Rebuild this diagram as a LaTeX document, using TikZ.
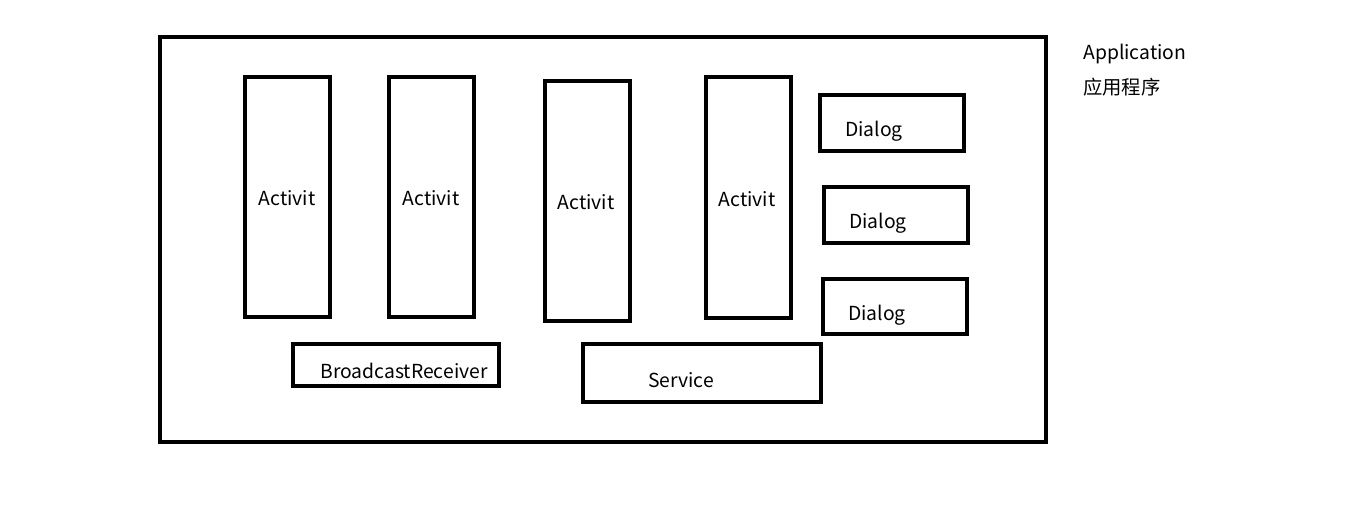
\documentclass[tikz,border=0pt]{standalone}
\usepackage{fontspec}
\setmainfont{Noto Sans CJK SC}
\begin{document}
\begin{tikzpicture}[x=0.75pt,y=-0.75pt,
  box/.style={draw=black,line width=3.3pt},
  lbl/.style={font=\fontsize{14.5pt}{17pt}\selectfont,inner sep=0pt}]
\useasboundingbox[fill=white] (0,0) rectangle (1348,530);
\draw[box] (160,37) rectangle (1046,442);
\draw[box] (245,77) rectangle (330,317);
\draw[box] (389,77) rectangle (474,317);
\draw[box] (545,81) rectangle (630,321);
\draw[box] (706,77) rectangle (791,318);
\draw[box] (820,95) rectangle (964,151);
\draw[box] (824,187) rectangle (968,243);
\draw[box] (823,279) rectangle (967,334);
\draw[box] (293,344) rectangle (499,386);
\draw[box] (583,344) rectangle (821,402);
\node[lbl] (a1) at (287,198) {Activit};
\node[lbl] (a2) at (431,198) {Activit};
\node[lbl] (a3) at (586,202) {Activit};
\node[lbl] (a4) at (747,199) {Activit};
\node[lbl] (d1) at (874,131) {Dialog};
\node[lbl] (d2) at (878,223) {Dialog};
\node[lbl] (d3) at (877,315) {Dialog};
\node[lbl] (br) at (404,371) {BroadcastReceiver};
\node[lbl] (sv) at (681,380) {Service};
\node[lbl,anchor=west] (app) at (1083,54) {Application};
\node[lbl,anchor=west] (cn) at (1083,87) {应用程序};
\end{tikzpicture}
\end{document}
